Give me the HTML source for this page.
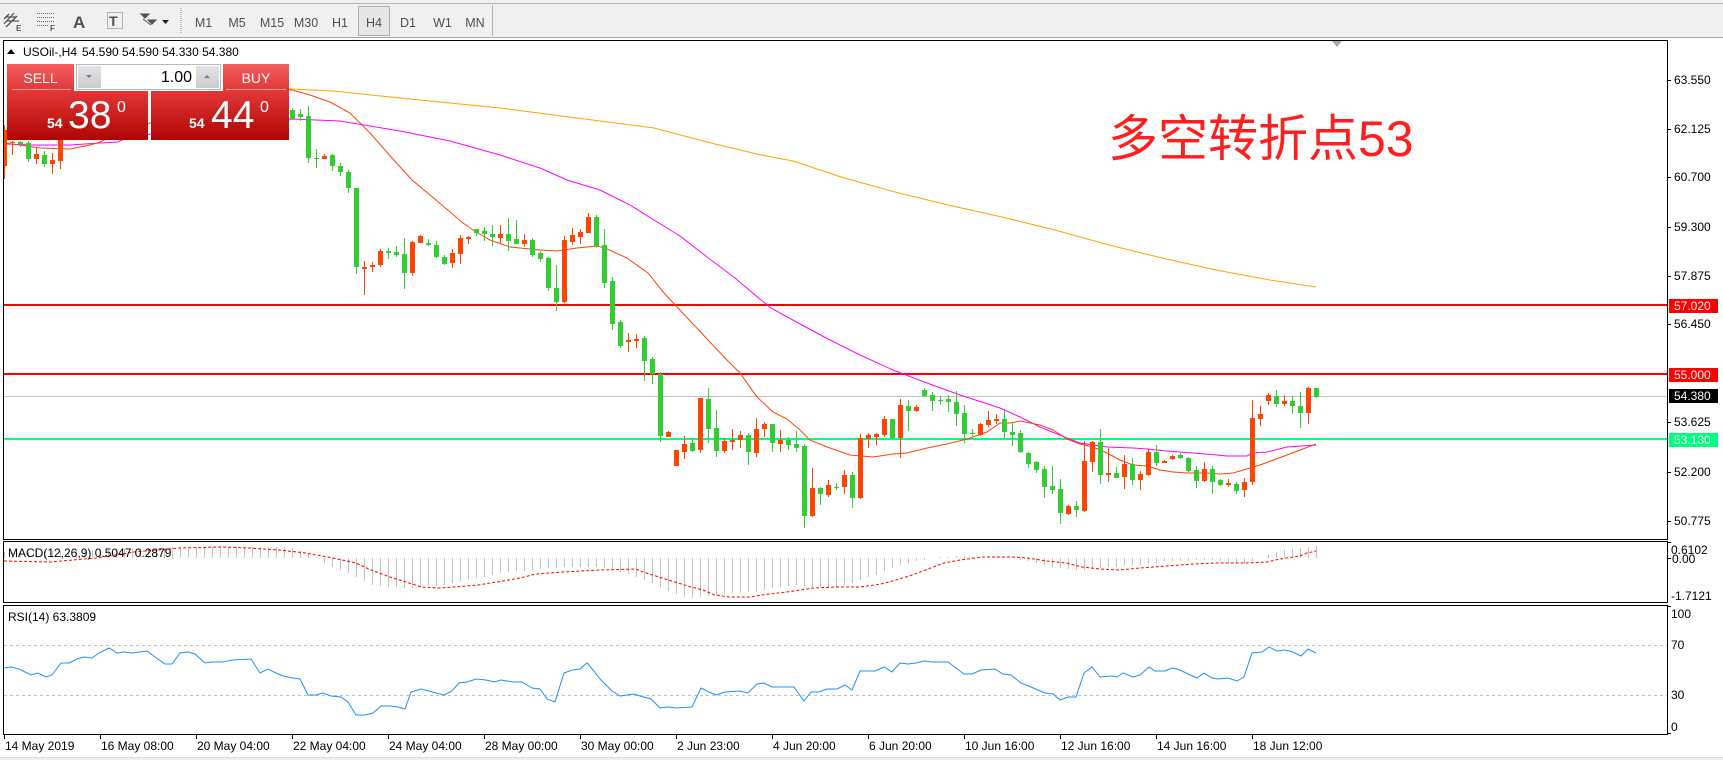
<!DOCTYPE html>
<html><head><meta charset="utf-8"><style>
html,body{margin:0;padding:0;background:#fff;}
svg{display:block;}
text{font-family:"Liberation Sans",sans-serif;}
</style></head><body>
<svg width="1723" height="760" viewBox="0 0 1723 760" xmlns="http://www.w3.org/2000/svg">
<defs>
<linearGradient id="gBtn" x1="0" y1="0" x2="0" y2="1"><stop offset="0" stop-color="#F55E5E"/><stop offset="1" stop-color="#E03838"/></linearGradient>
<linearGradient id="gBox" x1="0" y1="0" x2="0" y2="1"><stop offset="0" stop-color="#E43838"/><stop offset="1" stop-color="#AE0404"/></linearGradient>
<linearGradient id="gSpin" x1="0" y1="0" x2="0" y2="1"><stop offset="0" stop-color="#E4E4E4"/><stop offset="1" stop-color="#CCCCCC"/></linearGradient>
<clipPath id="cMain"><rect x="4" y="41" width="1663" height="498"/></clipPath>
<clipPath id="cMacd"><rect x="4" y="542" width="1663" height="60"/></clipPath>
<clipPath id="cRsi"><rect x="4" y="606" width="1663" height="128"/></clipPath>
</defs>

<!-- toolbar -->
<rect x="0" y="0" width="1723" height="38" fill="#F0F0F0"/>
<line x1="0" y1="3.5" x2="1723" y2="3.5" stroke="#B8B8B8"/>
<line x1="0" y1="37.5" x2="1723" y2="37.5" stroke="#A8A8A8"/>
<line x1="181" y1="8" x2="181" y2="33" stroke="#909090" stroke-dasharray="1 1"/>
<line x1="183" y1="8" x2="183" y2="33" stroke="#FFFFFF" stroke-dasharray="1 1"/>
<line x1="492.5" y1="5" x2="492.5" y2="36" stroke="#B0B0B0"/>
<!-- icons -->
<g stroke="#555" stroke-width="1.3" fill="none">
<path d="M4 24 L14 13 M6 27 L17 16 M4 19 L9 14 M7 21 L19 21 M5 17 L16 17"/>
</g>
<text x="16" y="31" font-size="8" font-weight="bold" fill="#555">E</text>
<g stroke="#666" stroke-dasharray="1 1"><line x1="37" y1="13.5" x2="55" y2="13.5"/><line x1="37" y1="17.5" x2="55" y2="17.5"/><line x1="37" y1="21.5" x2="55" y2="21.5"/><line x1="37" y1="25.5" x2="48" y2="25.5"/></g>
<text x="50" y="31" font-size="8" font-weight="bold" fill="#555">F</text>
<text x="73" y="28" font-size="17" font-weight="bold" fill="#505050">A</text>
<rect x="107.5" y="12.5" width="15" height="16" fill="none" stroke="#777" stroke-dasharray="1 1"/>
<text x="109" y="26" font-size="14" font-weight="bold" fill="#505050">T</text>
<path d="M141 14 l4 4 l4 -4 z M148 20 l4 4 l4 -4 z M143 19 l8 6" fill="#505050" stroke="#505050"/>
<path d="M162 20 h7 l-3.5 4 z" fill="#202020"/>
<!-- H4 pressed -->
<rect x="358.5" y="6.5" width="31" height="29" fill="#E6E6E6" stroke="#B0B0B0"/>
<g font-size="12.5" fill="#505050" text-anchor="middle">
<text x="203.5" y="27">M1</text><text x="237" y="27">M5</text><text x="272" y="27">M15</text><text x="306" y="27">M30</text><text x="340" y="27">H1</text><text x="374" y="27">H4</text><text x="408" y="27">D1</text><text x="442.5" y="27">W1</text><text x="475" y="27">MN</text>
</g>

<!-- frames -->
<rect x="3.5" y="40.5" width="1664" height="499" fill="#fff" stroke="#000"/>
<rect x="3.5" y="541.5" width="1664" height="61" fill="#fff" stroke="#000"/>
<rect x="3.5" y="605.5" width="1664" height="129" fill="#fff" stroke="#000"/>

<!-- main chart -->
<g clip-path="url(#cMain)">
<rect x="4" y="304" width="1663" height="2" fill="#FF0000"/>
<rect x="4" y="373" width="1663" height="2" fill="#FF0000"/>
<rect x="4" y="396" width="1663" height="1" fill="#C0C0C0"/>
<rect x="4" y="438" width="1663" height="2" fill="#00FF7F"/>

<path fill="none" stroke="#FFA500" stroke-width="1" d="M270 88 L292 89 L333 91 L400 98 L500 108 L600 121 L654 128 L707 142 L761 155 L793 161 L841 177 L895 192 L948 205 L1002 217 L1055 230 L1109 245 L1162 258 L1216 270 L1270 280 L1316 287"/>
<path fill="none" stroke="#FF00FF" stroke-width="1" d="M7 144 L30 145 L70 145 L100 143 L118 142 L124 139 L200 125 L292 119 L340 121 L400 131 L450 141 L500 155 L540 168 L567 180 L600 190 L630 205 L654 220 L680 236 L707 257 L735 278 L761 300 L771 308 L800 324 L830 340 L860 355 L893 370 L927 383 L960 395 L1000 408 L1020 417 L1040 427 L1067 438 L1080 443 L1107 447 L1133 448 L1147 449 L1167 451 L1193 453 L1217 455 L1227 456 L1247 456 L1253 453 L1267 452 L1287 447 L1316 445"/>
<path fill="none" stroke="#FF4500" stroke-width="1" d="M4 143 L20 145 L40 148 L70 149 L90 145 L100 142 L106 139 L200 105 L270 88 L292 90 L310 95 L330 102 L350 113 L370 133 L392 158 L412 180 L430 195 L463 223 L473 230 L490 240 L510 247 L520 248 L540 250 L557 251 L577 248 L597 246 L605 248 L627 258 L648 273 L664 293 L678 308 L708 340 L727 360 L740 373 L757 397 L773 412 L787 419 L800 430 L810 440 L827 447 L850 455 L873 457 L893 454 L907 453 L927 448 L947 444 L967 439 L987 432 L1000 423 L1010 423 L1020 421 L1030 423 L1040 425 L1053 430 L1067 439 L1080 444 L1093 447 L1107 453 L1120 460 L1133 465 L1147 466 L1160 470 L1173 472 L1187 473 L1207 473 L1220 474 L1233 473 L1247 469 L1260 465 L1287 455 L1316 444"/>

<g shape-rendering="crispEdges">
<path stroke="#32CD32" stroke-width="1" fill="none" d="M20.5 141V147M28.5 141V162M44.5 151V167M292.5 108V120M300.5 109V121M308.5 106V163M316.5 149V168M332.5 154V171M340.5 163V176M348.5 170V193M356.5 188V274M388.5 248V259M396.5 246V257M404.5 238V289M428.5 239V246M436.5 241V258M444.5 255V265M476.5 229V236M484.5 227V241M492.5 225V246M508.5 218V251M516.5 220V244M532.5 238V257M540.5 251V262M548.5 257V291M556.5 265V311M596.5 215V248M604.5 229V288M612.5 277V330M620.5 320V348M644.5 336V381M652.5 357V384M660.5 372V442M692.5 438V452M708.5 388V443M716.5 410V457M748.5 433V465M772.5 424V452M788.5 437V450M796.5 431V452M804.5 444V528M820.5 487V505M836.5 483V490M852.5 472V508M892.5 419V439M908.5 400V431M924.5 388V397M932.5 392V411M940.5 396V405M948.5 395V412M956.5 391V426M964.5 405V443M972.5 429V436M1004.5 409V438M1012.5 423V446M1020.5 430V453M1028.5 452V468M1036.5 461V473M1044.5 466V498M1052.5 466V494M1060.5 479V524M1076.5 501V517M1100.5 429V484M1116.5 467V478M1132.5 458V485M1156.5 445V466M1180.5 453V459M1188.5 457V472M1196.5 466V488M1212.5 466V494M1220.5 479V486M1236.5 482V494M1276.5 390V407M1292.5 396V414M1300.5 392V428M1316.5 388V398"/>
<path fill="#32CD32" d="M18 142h5v2h-5zM26 143h5v16h-5zM42 155h5v9h-5zM290 110h5v9h-5zM298 114h5v3h-5zM306 116h5v42h-5zM314 158h5v1h-5zM330 155h5v11h-5zM338 166h5v6h-5zM346 172h5v16h-5zM354 188h5v79h-5zM386 251h5v2h-5zM394 252h5v3h-5zM402 254h5v19h-5zM426 243h5v2h-5zM434 245h5v12h-5zM442 257h5v7h-5zM474 229h5v4h-5zM482 231h5v3h-5zM490 234h5v3h-5zM506 234h5v7h-5zM514 239h5v5h-5zM530 240h5v15h-5zM538 253h5v6h-5zM546 258h5v30h-5zM554 288h5v14h-5zM594 217h5v29h-5zM602 245h5v38h-5zM610 281h5v43h-5zM618 322h5v24h-5zM642 338h5v23h-5zM650 359h5v15h-5zM658 374h5v62h-5zM690 443h5v8h-5zM706 399h5v30h-5zM714 428h5v23h-5zM746 435h5v17h-5zM770 424h5v19h-5zM786 440h5v5h-5zM794 444h5v4h-5zM802 446h5v70h-5zM818 488h5v6h-5zM834 487h5v1h-5zM850 475h5v23h-5zM890 419h5v19h-5zM906 406h5v5h-5zM922 390h5v6h-5zM930 395h5v6h-5zM938 400h5v1h-5zM946 399h5v3h-5zM954 402h5v12h-5zM962 413h5v21h-5zM970 433h5v1h-5zM1002 419h5v13h-5zM1010 432h5v3h-5zM1018 433h5v19h-5zM1026 453h5v11h-5zM1034 462h5v8h-5zM1042 469h5v18h-5zM1050 486h5v4h-5zM1058 489h5v24h-5zM1074 506h5v4h-5zM1098 442h5v33h-5zM1114 473h5v5h-5zM1130 464h5v16h-5zM1154 452h5v11h-5zM1178 455h5v3h-5zM1186 458h5v13h-5zM1194 470h5v11h-5zM1210 469h5v13h-5zM1218 480h5v5h-5zM1234 484h5v7h-5zM1274 396h5v8h-5zM1290 401h5v5h-5zM1298 406h5v7h-5zM1314 388h5v9h-5z"/>
<path stroke="#FF4500" stroke-width="1" fill="none" d="M4.5 125V179M12.5 141V155M36.5 148V164M52.5 153V174M60.5 125V169M324.5 154V159M364.5 261V295M372.5 262V272M380.5 249V267M412.5 241V276M420.5 235V243M452.5 249V268M460.5 235V264M468.5 236V244M500.5 225V243M524.5 234V247M564.5 236V303M572.5 228V245M580.5 229V244M588.5 213V233M628.5 333V352M636.5 334V348M668.5 431V437M676.5 450V466M684.5 436V459M700.5 398V453M724.5 438V453M732.5 429V450M740.5 431V448M756.5 418V457M764.5 422V437M780.5 430V452M812.5 468V517M828.5 480V497M844.5 470V494M860.5 434V499M868.5 433V448M876.5 433V445M884.5 416V437M900.5 399V458M916.5 405V412M980.5 423V436M988.5 411V427M996.5 414V424M1068.5 505V515M1084.5 441V512M1092.5 441V472M1108.5 448V482M1124.5 455V489M1140.5 471V490M1148.5 449V476M1164.5 460V463M1172.5 455V460M1204.5 462V482M1228.5 479V487M1244.5 478V497M1252.5 400V485M1260.5 406V426M1268.5 393V405M1284.5 395V406M1308.5 387V424"/>
<path fill="#FF4500" d="M2 130h5v36h-5zM10 142h5v1h-5zM34 154h5v5h-5zM50 160h5v4h-5zM58 130h5v31h-5zM322 156h5v3h-5zM362 267h5v2h-5zM370 265h5v2h-5zM378 251h5v14h-5zM410 242h5v31h-5zM418 236h5v7h-5zM450 253h5v10h-5zM458 238h5v16h-5zM466 237h5v2h-5zM498 234h5v4h-5zM522 240h5v4h-5zM562 240h5v62h-5zM570 235h5v7h-5zM578 232h5v5h-5zM586 217h5v16h-5zM626 340h5v2h-5zM634 339h5v2h-5zM666 432h5v5h-5zM674 450h5v16h-5zM682 444h5v8h-5zM698 398h5v52h-5zM722 441h5v10h-5zM730 440h5v2h-5zM738 435h5v5h-5zM754 429h5v24h-5zM762 424h5v5h-5zM778 440h5v4h-5zM810 488h5v28h-5zM826 485h5v10h-5zM842 475h5v12h-5zM858 438h5v60h-5zM866 435h5v4h-5zM874 434h5v3h-5zM882 419h5v16h-5zM898 405h5v33h-5zM914 407h5v4h-5zM978 424h5v11h-5zM986 420h5v5h-5zM994 419h5v2h-5zM1066 506h5v8h-5zM1082 461h5v50h-5zM1090 442h5v20h-5zM1106 473h5v2h-5zM1122 464h5v13h-5zM1138 474h5v6h-5zM1146 452h5v23h-5zM1162 461h5v2h-5zM1170 456h5v3h-5zM1202 469h5v12h-5zM1226 483h5v2h-5zM1242 482h5v8h-5zM1250 418h5v64h-5zM1258 414h5v5h-5zM1266 395h5v6h-5zM1282 401h5v3h-5zM1306 388h5v25h-5z"/>
</g>
</g>

<!-- shift marker -->
<path d="M1332 41 h10 l-5 6 z" fill="#A8A8A8"/>

<!-- Chinese annotation -->
<text x="1108" y="156" font-size="50" fill="#FF1E1E" style='font-family:"Liberation Sans","Noto Sans CJK SC",sans-serif'>多空转折点53</text>

<!-- title -->
<path d="M7 54 h8 l-4 -5 z" fill="#000"/>
<text x="23" y="56" font-size="12" fill="#000">USOil-,H4</text>
<text x="82" y="56" font-size="12" fill="#000">54.590 54.590 54.330 54.380</text>

<!-- trade panel -->
<rect x="7" y="91" width="141" height="49" fill="url(#gBox)"/>
<rect x="151" y="91" width="138" height="49" fill="url(#gBox)"/>
<rect x="7" y="64" width="67" height="27" fill="url(#gBtn)"/>
<line x1="12" y1="89.5" x2="71" y2="89.5" stroke="#F49A9A"/>
<text x="40.5" y="83" font-size="14" fill="#fff" text-anchor="middle">SELL</text>
<rect x="76.5" y="64.5" width="144" height="25" fill="#fff" stroke="#B8B8B8"/>
<rect x="78" y="66" width="23" height="22" fill="url(#gSpin)"/>
<rect x="196" y="66" width="23" height="22" fill="url(#gSpin)"/>
<path d="M86 75 h6 l-3 3 z" fill="#6A78B0"/>
<path d="M204 78 h6 l-3 -3 z" fill="#6A78B0"/>
<text x="192" y="82" font-size="16" fill="#000" text-anchor="end">1.00</text>
<rect x="223" y="64" width="66" height="27" fill="url(#gBtn)"/>
<line x1="226" y1="89.5" x2="286" y2="89.5" stroke="#F49A9A"/>
<text x="256" y="83" font-size="14" fill="#fff" text-anchor="middle">BUY</text>
<text x="47" y="128" font-size="14" font-weight="bold" fill="#fff">54</text>
<text x="68" y="128" font-size="39" fill="#fff">38</text>
<text x="117" y="112" font-size="16" fill="#fff">0</text>
<text x="189" y="128" font-size="14" font-weight="bold" fill="#fff">54</text>
<text x="211" y="128" font-size="39" fill="#fff">44</text>
<text x="260" y="112" font-size="16" fill="#fff">0</text>

<!-- price axis -->
<g stroke="#000" shape-rendering="crispEdges">
<path d="M1667 80.5h4M1667 129.5h4M1667 177.5h4M1667 227.5h4M1667 276.5h4M1667 324.5h4M1667 422.5h4M1667 472.5h4M1667 521.5h4M1667 542.5h4M1667 558.5h4M1667 606.5h4M1667 733.5h4"/>
</g>
<g font-size="12" fill="#000">
<text x="1674" y="84">63.550</text>
<text x="1674" y="133">62.125</text>
<text x="1674" y="181">60.700</text>
<text x="1674" y="231">59.300</text>
<text x="1674" y="280">57.875</text>
<text x="1674" y="328">56.450</text>
<text x="1674" y="426">53.625</text>
<text x="1674" y="476">52.200</text>
<text x="1674" y="525">50.775</text>
</g>
<rect x="1669" y="299" width="49" height="14" fill="#FF0000"/>
<text x="1674" y="310" font-size="12" fill="#fff">57.020</text>
<rect x="1669" y="368" width="49" height="14" fill="#FF0000"/>
<text x="1674" y="379" font-size="12" fill="#fff">55.000</text>
<rect x="1669" y="389" width="49" height="14" fill="#000"/>
<text x="1674" y="400" font-size="12" fill="#fff">54.380</text>
<rect x="1669" y="433" width="49" height="14" fill="#00FF7F"/>
<text x="1674" y="444" font-size="12" fill="#fff">53.130</text>

<!-- MACD -->
<g clip-path="url(#cMacd)">
<path stroke="#C0C0C0" stroke-width="1" fill="none" shape-rendering="crispEdges" d="M4.5 558V552M12.5 558V552M20.5 558V552M28.5 558V552M36.5 558V551M44.5 558V551M52.5 558V551M60.5 558V551M68.5 558V551M76.5 558V550M84.5 558V550M92.5 558V550M100.5 558V550M108.5 558V550M116.5 558V549M124.5 558V549M132.5 558V549M140.5 558V548M148.5 558V548M156.5 558V548M164.5 558V548M172.5 558V547M180.5 558V547M188.5 558V547M196.5 558V547M204.5 558V547M212.5 558V547M220.5 558V547M228.5 558V547M236.5 558V547M244.5 558V547M252.5 558V547M260.5 558V547M268.5 558V547M276.5 558V547M284.5 558V547M292.5 558V548M300.5 558V551M308.5 558V554M316.5 558V557M324.5 558V563M332.5 558V567M340.5 558V570M348.5 558V573M356.5 558V577M364.5 558V581M372.5 558V585M380.5 558V586M388.5 558V587M396.5 558V587M404.5 558V588M412.5 558V588M420.5 558V587M428.5 558V586M436.5 558V586M444.5 558V585M452.5 558V583M460.5 558V581M468.5 558V579M476.5 558V578M484.5 558V577M492.5 558V575M500.5 558V573M508.5 558V572M516.5 558V571M524.5 558V571M532.5 558V570M540.5 558V569M548.5 558V568M556.5 558V568M564.5 558V567M572.5 558V567M580.5 558V567M588.5 558V567M596.5 558V567M604.5 558V568M612.5 558V570M620.5 558V572M628.5 558V574M636.5 558V577M644.5 558V580M652.5 558V583M660.5 558V587M668.5 558V591M676.5 558V594M684.5 558V597M692.5 558V598M700.5 558V597M708.5 558V596M716.5 558V595M724.5 558V594M732.5 558V593M740.5 558V593M748.5 558V592M756.5 558V592M764.5 558V590M772.5 558V588M780.5 558V587M788.5 558V586M796.5 558V585M804.5 558V586M812.5 558V587M820.5 558V587M828.5 558V587M836.5 558V587M844.5 558V585M852.5 558V583M860.5 558V580M868.5 558V577M876.5 558V575M884.5 558V571M892.5 558V568M900.5 558V565M908.5 558V563M916.5 558V561M924.5 558V560M940.5 558V557M948.5 558V557M956.5 558V556M964.5 558V556M972.5 558V557M980.5 558V557M988.5 558V557M996.5 558V557M1020.5 558V560M1028.5 558V561M1036.5 558V563M1044.5 558V565M1052.5 558V567M1060.5 558V568M1068.5 558V569M1076.5 558V570M1084.5 558V570M1092.5 558V569M1100.5 558V568M1108.5 558V567M1116.5 558V567M1124.5 558V566M1132.5 558V566M1140.5 558V565M1148.5 558V564M1156.5 558V563M1164.5 558V561M1172.5 558V561M1180.5 558V561M1188.5 558V561M1196.5 558V560M1204.5 558V560M1212.5 558V560M1220.5 558V561M1228.5 558V562M1236.5 558V563M1244.5 558V564M1252.5 558V561M1268.5 558V555M1276.5 558V552M1284.5 558V550M1292.5 558V549M1300.5 558V548M1308.5 558V547M1316.5 558V546"/>
<path fill="none" stroke="#FF0000" stroke-width="1" stroke-dasharray="3 2" d="M4 561 L50 562 L96 558 L134 552 L180 548 L222 547 L249 548 L279 550 L306 553 L333 558 L356 563 L371 570 L390 577 L406 582 L421 587 L440 588 L455 587 L478 585 L497 582 L520 578 L536 574 L563 572 L600 570 L636 569 L643 572 L659 577 L675 582 L691 587 L703 590 L715 595 L730 597 L750 597 L762 595 L778 593 L794 591 L813 588 L837 587 L861 587 L881 584 L896 580 L912 575 L928 569 L944 563 L960 560 L983 557 L1011 557 L1027 558 L1047 561 L1066 563 L1082 567 L1100 569 L1120 570 L1140 568 L1167 566 L1193 564 L1217 563 L1247 563 L1267 562 L1280 559 L1293 557 L1300 556 L1307 553 L1316 551"/>
</g>
<text x="8" y="557" font-size="12" fill="#000">MACD(12,26,9) 0.5047 0.2879</text>
<g font-size="12" fill="#000">
<text x="1671" y="554">0.6102</text>
<text x="1672" y="563">0.00</text>
<text x="1671" y="600">-1.7121</text>
</g>

<!-- RSI -->
<g clip-path="url(#cRsi)">
<line x1="4" y1="645.5" x2="1667" y2="645.5" stroke="#C0C0C0" stroke-dasharray="3 3"/>
<line x1="4" y1="695.5" x2="1667" y2="695.5" stroke="#C0C0C0" stroke-dasharray="3 3"/>
<path fill="none" stroke="#1E90FF" stroke-width="1" d="M4 668 L11 667 L19 669 L31 675 L38 673 L46 677 L52 675 L61 663 L69 663 L77 659 L84 657 L92 658 L99 653 L109 648 L117 653 L124 652 L132 653 L147 651 L155 657 L165 664 L172 664 L180 653 L188 652 L195 654 L205 663 L212 662 L222 662 L233 660 L251 659 L260 673 L268 669 L276 673 L283 676 L293 678 L300 679 L308 695 L316 695 L323 693 L331 696 L341 697 L348 702 L356 715 L365 715 L373 713 L381 706 L390 706 L398 707 L405 709 L411 692 L421 689 L429 691 L436 693 L444 695 L452 691 L459 683 L467 682 L476 679 L486 680 L494 682 L501 680 L513 682 L522 682 L532 688 L540 689 L547 699 L555 702 L564 673 L572 670 L580 669 L587 663 L593 670 L600 679 L606 685 L612 691 L620 696 L634 694 L640 696 L651 699 L660 708 L668 707 L676 708 L692 707 L701 688 L709 692 L716 695 L725 692 L740 691 L748 693 L757 684 L764 683 L772 687 L794 687 L804 701 L811 692 L819 692 L827 689 L837 689 L845 685 L852 690 L860 671 L875 671 L884 667 L892 672 L900 663 L908 664 L916 663 L924 661 L932 662 L948 662 L964 674 L972 674 L981 670 L995 669 L1003 674 L1011 675 L1021 683 L1031 687 L1045 693 L1053 694 L1060 700 L1068 697 L1076 697 L1084 673 L1092 667 L1100 677 L1112 676 L1117 677 L1123 673 L1128 675 L1133 677 L1140 675 L1149 667 L1155 671 L1165 671 L1172 668 L1177 669 L1182 671 L1188 674 L1197 678 L1204 673 L1212 678 L1218 679 L1228 678 L1237 681 L1244 677 L1252 653 L1262 652 L1269 647 L1277 651 L1285 650 L1293 652 L1301 656 L1308 649 L1316 653"/>
</g>
<text x="8" y="621" font-size="12" fill="#000">RSI(14) 63.3809</text>
<g font-size="12" fill="#000">
<text x="1671" y="618">100</text>
<text x="1671" y="649">70</text>
<text x="1671" y="699">30</text>
<text x="1671" y="731">0</text>
</g>

<!-- date axis -->
<path stroke="#000" shape-rendering="crispEdges" d="M4.5 734V739M100.5 734V739M196.5 734V739M292.5 734V739M388.5 734V739M484.5 734V739M580.5 734V739M676.5 734V739M772.5 734V739M868.5 734V739M964.5 734V739M1060.5 734V739M1156.5 734V739M1252.5 734V739"/>
<g font-size="12" fill="#000">
<text x="5" y="750">14 May 2019</text>
<text x="101" y="750">16 May 08:00</text>
<text x="197" y="750">20 May 04:00</text>
<text x="293" y="750">22 May 04:00</text>
<text x="389" y="750">24 May 04:00</text>
<text x="485" y="750">28 May 00:00</text>
<text x="581" y="750">30 May 00:00</text>
<text x="677" y="750">2 Jun 23:00</text>
<text x="773" y="750">4 Jun 20:00</text>
<text x="869" y="750">6 Jun 20:00</text>
<text x="965" y="750">10 Jun 16:00</text>
<text x="1061" y="750">12 Jun 16:00</text>
<text x="1157" y="750">14 Jun 16:00</text>
<text x="1253" y="750">18 Jun 12:00</text>
</g>
<rect x="0" y="757" width="1723" height="3" fill="#F0F0F0"/>
<line x1="0" y1="757.5" x2="1723" y2="757.5" stroke="#DADADA"/>
</svg>
</body></html>
